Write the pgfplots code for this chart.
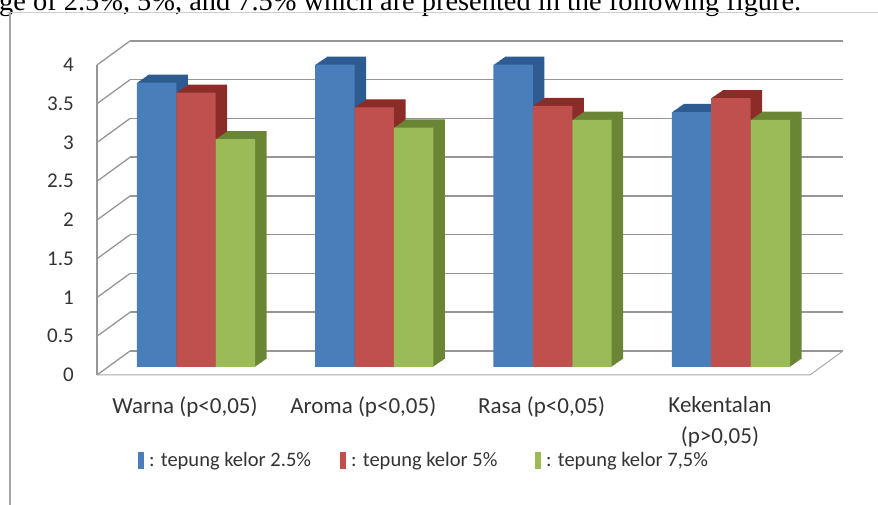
\documentclass[border=0pt]{standalone}
\usepackage{fontspec}
\setmainfont{Carlito}
\newfontfamily\capfont{Liberation Serif}
\usepackage{pgfplots}
\usepackage{pgfplotstable}
\pgfplotsset{compat=1.18}
\definecolor{cblue}{HTML}{4A7EBB}
\definecolor{cbluedk}{HTML}{2E5B91}
\definecolor{cred}{HTML}{C0504D}
\definecolor{credk}{HTML}{8C2C29}
\definecolor{cgreen}{HTML}{9BBB59}
\definecolor{cgreendk}{HTML}{6A8635}
\definecolor{wallc}{HTML}{969696}
\definecolor{floorc}{HTML}{A8A8A8}
\definecolor{txt}{HTML}{333333}

\pgfplotstableread{
x a b c
0 3.67 3.54 2.94
1 3.90 3.35 3.09
2 3.90 3.37 3.19
3 3.29 3.47 3.19
}\datatable

\pgfplotstableread{
x y
-0.4935 0
-0.3084 0.3097
}\diagtable

\newcommand\prism[4]{%
  \pgfplotsinvokeforeach{1,...,12}{%
    \addplot[ybar, bar width=39.4pt, bar shift=#2pt, draw=none, fill=#3,
      xshift=##1*0.96pt, yshift=8pt+##1*0.67pt, forget plot]
      table[x=x, y=#1]{\datatable};}
  \addplot[ybar, bar width=39.4pt, bar shift=#2pt, draw=none, fill=#4,
    yshift=8pt, forget plot] table[x=x, y=#1]{\datatable};
}

\begin{document}
\begin{tikzpicture}[x=1pt,y=1pt]
\useasboundingbox (0,0) rectangle (878,505);
\begin{scope}
\clip (0,0) rectangle (878,505);
\node[anchor=base west, inner sep=0pt, font=\capfont\fontsize{28.4}{28.4}\selectfont]
  at (-1,494) {ge of 2.5\%, 5\%, and 7.5\% which are presented in the following figure.};
\end{scope}
\draw[color={rgb,255:red,205;green,205;blue,205}, line width=1pt] (7,492.5) -- (878,492.5);
\draw[color={rgb,255:red,165;green,165;blue,165}, line width=2pt] (10,492.5) -- (10,0);

\begin{axis}[
  at={(97pt,130pt)}, anchor=south west,
  x=178.3pt, y=77.5pt,
  xmin=-0.4935, xmax=3.69, ymin=0, ymax=4.31,
  enlargelimits=false, clip=false,
  axis line style={draw=none}, major tick length=0pt,
  /pgf/number format/assume math mode=true,
  ytick={0,0.5,1,1.5,2,2.5,3,3.5,4},
  yticklabels={0,0.5,1,1.5,2,2.5,3,3.5,4},
  yticklabel style={anchor=east, inner sep=0pt, xshift=-23pt,
    font=\fontsize{21}{21}\selectfont, text=txt},
  xtick={0,1,2,3},
  xticklabels={{Warna (p<0,05)},{Aroma (p<0,05)},{Rasa (p<0,05)},{Kekentalan\\(p>0,05)}},
  xticklabel style={anchor=north, align=center, inner sep=0pt, yshift=-21pt,
    font=\fontsize{23}{31}\selectfont, text=txt},
]
% back wall gridlines and left wall diagonals
\pgfplotsinvokeforeach{0,0.5,1,1.5,2,2.5,3,3.5,4}{
  \addplot[wallc, line width=1.5pt, xshift=33pt, yshift=24pt, forget plot]
    coordinates {(-0.4935,#1) (3.505,#1)};
  \addplot[wallc, line width=1.3pt, forget plot]
    table[x=x, y expr=\thisrow{y}+#1]{\diagtable};
}
\addplot[wallc, line width=1.3pt, forget plot] coordinates {(-0.4935,0) (-0.4935,4)};
\addplot[floorc, line width=1pt, forget plot] coordinates {(-0.4935,0) (3.505,0) (3.69,0.3097)};
% bars
\prism{a}{-28.4}{cbluedk}{cblue}
\prism{b}{11}{credk}{cred}
\prism{c}{50.4}{cgreendk}{cgreen}
\end{axis}

% legend
\fill[cblue] (138,35.5) rectangle (144,52.5);
\node[anchor=base west, inner sep=0pt, font=\fontsize{20.5}{20.5}\selectfont, text=txt]
  at (149,38) {: tepung kelor 2.5\%};
\fill[cred] (340,35.5) rectangle (346,52.5);
\node[anchor=base west, inner sep=0pt, font=\fontsize{20.5}{20.5}\selectfont, text=txt]
  at (351,38) {: tepung kelor 5\%};
\fill[cgreen] (535,35.5) rectangle (541,52.5);
\node[anchor=base west, inner sep=0pt, font=\fontsize{20.5}{20.5}\selectfont, text=txt]
  at (546,38) {: tepung kelor 7,5\%};
\end{tikzpicture}
\end{document}
